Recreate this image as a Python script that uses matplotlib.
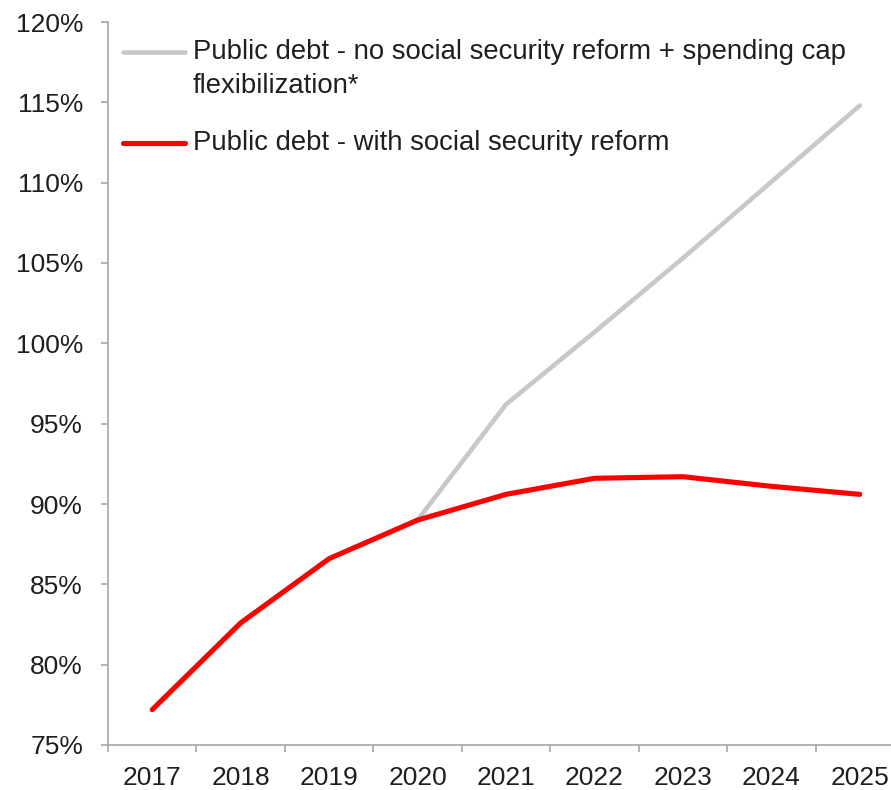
import matplotlib.pyplot as plt
from matplotlib.ticker import FuncFormatter

plt.rcParams['font.family'] = ['Liberation Sans', 'DejaVu Sans']

years = ['2017', '2018', '2019', '2020', '2021', '2022', '2023', '2024', '2025']
debt_reform = [77.2, 82.6, 86.6, 89.0, 90.6, 91.6, 91.7, 91.1, 90.6]
debt_no_reform = [None, None, None, 89.0, 96.2, 100.7, 105.3, 110.05, 114.8]

label_no_reform = 'Public debt - no social security reform + spending cap\nflexibilization*'
label_reform = 'Public debt - with social security reform'

txt_color = '#1f1f1f'
axis_color = '#a6a6a6'

fig = plt.figure(figsize=(8.91, 7.90), dpi=100)
ax = fig.add_axes([108 / 891, 45 / 790, 796 / 891, 723 / 790])

x = list(range(len(years)))
x_nr = [i for i, v in zip(x, debt_no_reform) if v is not None]
y_nr = [v for v in debt_no_reform if v is not None]

ax.plot(x_nr, y_nr, color='#c8c8c8', lw=3.3, solid_capstyle='round', zorder=2)
ax.plot(x, debt_reform, color='#ff0000', lw=3.7, solid_capstyle='round', zorder=3)

ax.set_xlim(-0.5, len(years) - 0.5)
ax.set_ylim(75, 120)
ax.set_yticks(range(75, 121, 5))
ax.yaxis.set_major_formatter(FuncFormatter(lambda v, p: f'{v:.0f}%'))
ax.set_xticks(x)
ax.set_xticklabels(years)
ax.set_xticks([i - 0.5 for i in range(len(years) + 1)], minor=True)

ax.tick_params(axis='x', which='major', length=0, pad=15, labelsize=19, labelcolor=txt_color)
ax.tick_params(axis='x', which='minor', length=5, width=1.2, color=axis_color, direction='out')
ax.tick_params(axis='y', length=5, width=1.2, color=axis_color, pad=13, labelsize=19, labelcolor=txt_color)

for s in ['top', 'right']:
    ax.spines[s].set_visible(False)
for s in ['left', 'bottom']:
    ax.spines[s].set_color(axis_color)
    ax.spines[s].set_linewidth(1.2)

# legend drawn by hand so the grey handle sits on the first text line
tr = fig.transFigure
ax.plot([123 / 891, 185 / 891], [1 - 52 / 790, 1 - 52 / 790], transform=tr,
        color='#c8c8c8', lw=3.3, solid_capstyle='round', clip_on=False)
ax.plot([123 / 891, 185 / 891], [1 - 143 / 790, 1 - 143 / 790], transform=tr,
        color='#ff0000', lw=3.7, solid_capstyle='round', clip_on=False)
fig.text(193 / 891, 1 - 39 / 790, label_no_reform, transform=tr, fontsize=19.8,
         color=txt_color, va='top', ha='left', linespacing=1.38)
fig.text(193 / 891, 1 - 130 / 790, label_reform, transform=tr, fontsize=19.8,
         color=txt_color, va='top', ha='left')

fig.savefig('out.png', dpi=100)
